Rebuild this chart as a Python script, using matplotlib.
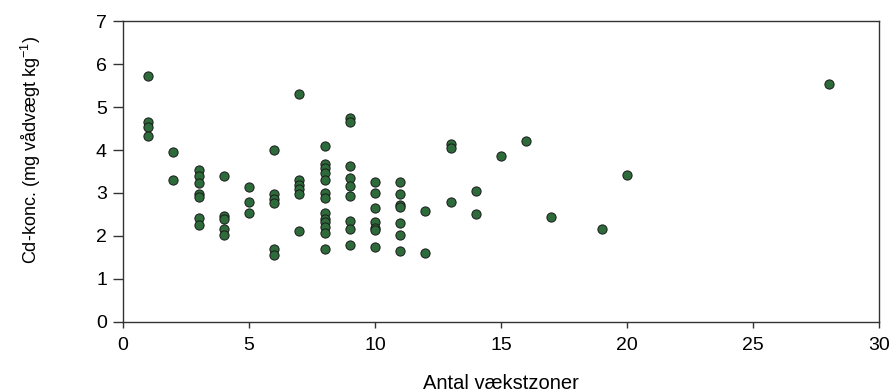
import matplotlib
matplotlib.use('Agg')
import matplotlib.pyplot as plt

# Antal vækstzoner (x) og Cd-koncentration (y)
zones = [1, 1, 1, 1,
         2, 2,
         3, 3, 3, 3, 3, 3, 3,
         4, 4, 4, 4, 4,
         5, 5, 5,
         6, 6, 6, 6, 6, 6,
         7, 7, 7, 7, 7, 7,
         8, 8, 8, 8, 8, 8, 8, 8, 8, 8, 8, 8, 8,
         9, 9, 9, 9, 9, 9, 9, 9, 9,
         10, 10, 10, 10, 10, 10, 10,
         11, 11, 11, 11, 11, 11, 11,
         12, 12,
         13, 13, 13,
         14, 14,
         15, 16, 17, 19, 20, 28]
cd_conc = [5.73, 4.66, 4.54, 4.32,
           3.95, 3.30,
           3.53, 3.39, 3.24, 2.97, 2.91, 2.41, 2.26,
           3.39, 2.47, 2.40, 2.16, 2.02,
           3.15, 2.78, 2.54,
           4.00, 2.97, 2.87, 2.76, 1.70, 1.56,
           5.31, 3.30, 3.19, 3.09, 2.97, 2.12,
           4.09, 3.67, 3.57, 3.47, 3.30, 3.01, 2.88, 2.54, 2.39, 2.33, 2.22, 2.07, 1.70,
           4.74, 4.64, 3.62, 3.34, 3.16, 2.92, 2.36, 2.17, 1.80,
           3.25, 3.01, 2.64, 2.32, 2.19, 2.14, 1.75,
           3.25, 2.97, 2.73, 2.67, 2.31, 2.03, 1.65,
           2.59, 1.60,
           4.13, 4.04, 2.78,
           3.05, 2.50,
           3.85, 4.22, 2.45, 2.17, 3.43, 5.54]

x_ticks = [0, 5, 10, 15, 20, 25, 30]
y_ticks = [0, 1, 2, 3, 4, 5, 6, 7]

plt.rcParams['font.family'] = ['Liberation Sans', 'DejaVu Sans']
plt.rcParams['mathtext.default'] = 'regular'

fig = plt.figure(figsize=(8.93, 3.92), dpi=100)
ax = fig.add_axes([0.1377, 0.1786, 0.8466, 0.7678])

ax.scatter(zones, cd_conc, s=44, color='#2e6b3a', edgecolors='#1a1a1a',
           linewidths=0.7, zorder=3, clip_on=False)

ax.set_xlim(0, 30)
ax.set_ylim(0, 7)
ax.set_xticks(x_ticks)
ax.set_yticks(y_ticks)

for sp in ax.spines.values():
    sp.set_color('#333333')
    sp.set_linewidth(1.0)

ax.tick_params(axis='y', direction='out', length=7.5, width=1, color='#333333',
               pad=4, labelsize=14)
ax.tick_params(axis='x', direction='out', length=4, width=1, color='#333333',
               pad=7, labelsize=14)

ax.set_xlabel('Antal vækstzoner', fontsize=14.5)
ax.set_ylabel('Cd-konc. (mg vådvægt kg$^{-1}$)', fontsize=13)
ax.xaxis.set_label_coords(0.5, -0.172)
ax.yaxis.set_label_coords(-0.106, 0.57)

fig.savefig('out.png', dpi=100)
